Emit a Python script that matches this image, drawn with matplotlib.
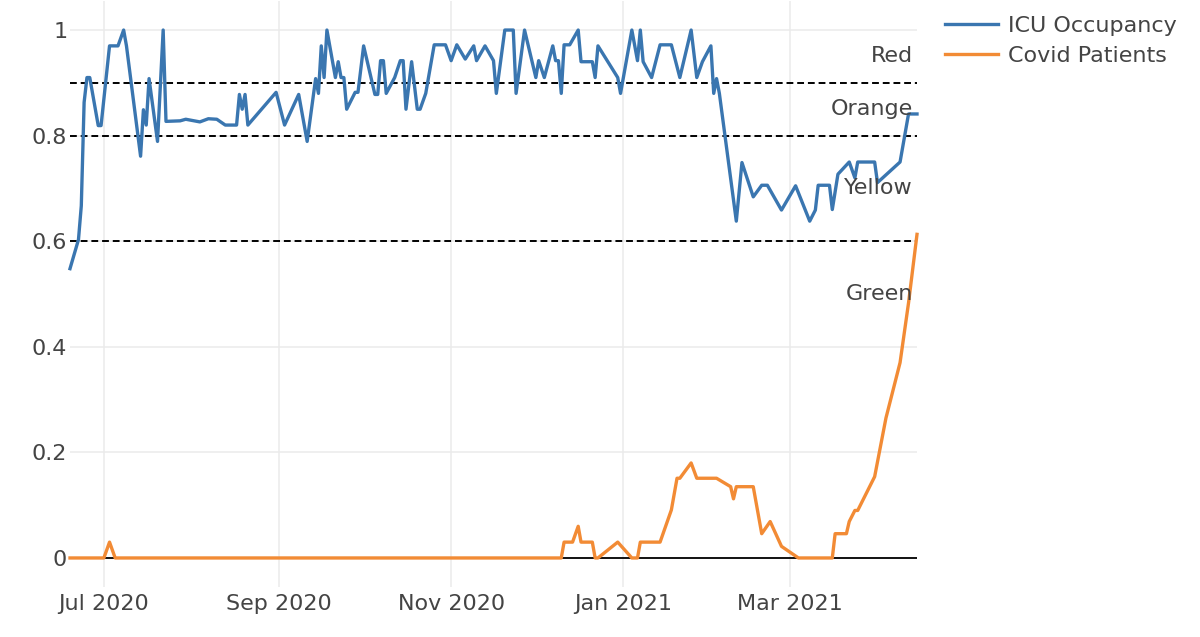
import matplotlib
matplotlib.use("Agg")
import matplotlib.pyplot as plt
import matplotlib.dates as mdates
import pandas as pd

plt.rcParams['font.family'] = ['DejaVu Sans']

# ICU occupancy (share of beds)
icu_dates = [
    "2020-06-19", "2020-06-22", "2020-06-23", "2020-06-24", "2020-06-25", "2020-06-26",
    "2020-06-29", "2020-06-30", "2020-07-03", "2020-07-06", "2020-07-08", "2020-07-09",
    "2020-07-14", "2020-07-15", "2020-07-16", "2020-07-17", "2020-07-20", "2020-07-22",
    "2020-07-23", "2020-07-28", "2020-07-30", "2020-08-04", "2020-08-07", "2020-08-10",
    "2020-08-13", "2020-08-17", "2020-08-18", "2020-08-19", "2020-08-20", "2020-08-21",
    "2020-08-31", "2020-09-03", "2020-09-08", "2020-09-11", "2020-09-14", "2020-09-15",
    "2020-09-16", "2020-09-17", "2020-09-18", "2020-09-21", "2020-09-22", "2020-09-23",
    "2020-09-24", "2020-09-25", "2020-09-28", "2020-09-29", "2020-10-01", "2020-10-05",
    "2020-10-06", "2020-10-07", "2020-10-08", "2020-10-09", "2020-10-12", "2020-10-14",
    "2020-10-15", "2020-10-16", "2020-10-18", "2020-10-20", "2020-10-21", "2020-10-23",
    "2020-10-26", "2020-10-30", "2020-11-01", "2020-11-03", "2020-11-06", "2020-11-09",
    "2020-11-10", "2020-11-13", "2020-11-16", "2020-11-17", "2020-11-20", "2020-11-23",
    "2020-11-24", "2020-11-27", "2020-12-01", "2020-12-02", "2020-12-04", "2020-12-07",
    "2020-12-08", "2020-12-09", "2020-12-10", "2020-12-11", "2020-12-13", "2020-12-16",
    "2020-12-17", "2020-12-21", "2020-12-22", "2020-12-23", "2020-12-30", "2020-12-31",
    "2021-01-04", "2021-01-06", "2021-01-07", "2021-01-08", "2021-01-11", "2021-01-14",
    "2021-01-18", "2021-01-21", "2021-01-25", "2021-01-27", "2021-01-29", "2021-02-01",
    "2021-02-02", "2021-02-03", "2021-02-04", "2021-02-10", "2021-02-12", "2021-02-16",
    "2021-02-19", "2021-02-21", "2021-02-26", "2021-03-03", "2021-03-08", "2021-03-10",
    "2021-03-11", "2021-03-15", "2021-03-16", "2021-03-18", "2021-03-22", "2021-03-24",
    "2021-03-25", "2021-03-31", "2021-04-01", "2021-04-09", "2021-04-12", "2021-04-15",
]
icu_vals = [
    0.548, 0.603, 0.667, 0.863, 0.91, 0.91,
    0.819, 0.819, 0.97, 0.97, 1.0, 0.97,
    0.761, 0.849, 0.82, 0.908, 0.789, 1.0,
    0.827, 0.828, 0.831, 0.826, 0.832, 0.831,
    0.82, 0.82, 0.878, 0.85, 0.878, 0.82,
    0.882, 0.82, 0.878, 0.789, 0.908, 0.88,
    0.97, 0.91, 1.0, 0.91, 0.94, 0.91,
    0.91, 0.85, 0.882, 0.882, 0.97, 0.878,
    0.878, 0.942, 0.942, 0.88, 0.91, 0.942,
    0.942, 0.85, 0.94, 0.85, 0.85, 0.88,
    0.972, 0.972, 0.942, 0.972, 0.945, 0.97,
    0.942, 0.97, 0.942, 0.88, 1.0, 1.0,
    0.88, 1.0, 0.91, 0.942, 0.91, 0.97,
    0.942, 0.942, 0.88, 0.972, 0.972, 1.0,
    0.94, 0.94, 0.91, 0.97, 0.91, 0.88,
    1.0, 0.942, 1.0, 0.94, 0.91, 0.972,
    0.972, 0.91, 1.0, 0.91, 0.94, 0.97,
    0.88, 0.908, 0.88, 0.638, 0.749, 0.684,
    0.706, 0.706, 0.659, 0.705, 0.638, 0.659,
    0.706, 0.706, 0.66, 0.727, 0.75, 0.72,
    0.75, 0.75, 0.711, 0.75, 0.841, 0.841,
]

# Covid patients (share of beds)
covid_dates = [
    "2020-06-19", "2020-07-01", "2020-07-03", "2020-07-05", "2020-12-10", "2020-12-11",
    "2020-12-14", "2020-12-16", "2020-12-17", "2020-12-21", "2020-12-22", "2020-12-23",
    "2020-12-30", "2021-01-04", "2021-01-06", "2021-01-07", "2021-01-14", "2021-01-18",
    "2021-01-20", "2021-01-21", "2021-01-25", "2021-01-27", "2021-02-03", "2021-02-08",
    "2021-02-09", "2021-02-10", "2021-02-16", "2021-02-19", "2021-02-22", "2021-02-26",
    "2021-03-04", "2021-03-16", "2021-03-17", "2021-03-21", "2021-03-22", "2021-03-24",
    "2021-03-25", "2021-03-31", "2021-04-04", "2021-04-09", "2021-04-12", "2021-04-15",
]
covid_vals = [
    0, 0, 0.03, 0, 0, 0.03,
    0.03, 0.06, 0.03, 0.03, 0, 0,
    0.03, 0, 0, 0.03, 0.03, 0.091,
    0.151, 0.151, 0.18, 0.151, 0.151, 0.135,
    0.112, 0.135, 0.135, 0.046, 0.069, 0.022,
    0, 0, 0.046, 0.046, 0.069, 0.09,
    0.09, 0.154, 0.265, 0.37, 0.483, 0.613,
]

thresholds = [0.9, 0.8, 0.6]
zone_names = ["Red", "Orange", "Yellow", "Green"]
zone_y = [0.95, 0.85, 0.70, 0.50]

icu_x = pd.to_datetime(icu_dates)
covid_x = pd.to_datetime(covid_dates)
x_start = icu_x[0]
x_end = icu_x[-1]

text_color = '#444444'
fig = plt.figure(figsize=(12, 6.37), dpi=100)
ax = fig.add_axes([70/1200, 1 - 587/637, 847/1200, 586/637])

for y in thresholds:
    ax.plot([x_start, x_end], [y, y], color='black', lw=1.4, dashes=(3.5, 2), zorder=2)
ax.axhline(0, color='black', lw=1.3, zorder=2)

ax.plot(icu_x, icu_vals, color='#3a76b0', lw=2.4, label='ICU Occupancy', zorder=3, clip_on=False)
ax.plot(covid_x, covid_vals, color='#f28b35', lw=2.4, label='Covid Patients', zorder=3, clip_on=False)

for name, y in zip(zone_names, zone_y):
    ax.text(x_end - pd.Timedelta(days=1.5), y, name, ha='right', va='center',
            fontsize=16, color=text_color, zorder=4)

ax.set_xlim(x_start, x_end)
ax.set_ylim(-0.055, 1.055)
ax.set_yticks([0, 0.2, 0.4, 0.6, 0.8, 1.0])
ax.set_yticklabels(['0', '0.2', '0.4', '0.6', '0.8', '1'])
ax.xaxis.set_major_locator(mdates.MonthLocator(bymonth=[1, 3, 5, 7, 9, 11]))
ax.xaxis.set_major_formatter(mdates.DateFormatter('%b %Y'))

ax.grid(True, color='#ebebeb', lw=1.1, zorder=0)
ax.set_axisbelow(True)
for s in ax.spines.values():
    s.set_visible(False)
ax.tick_params(length=0, labelsize=16, colors=text_color)
ax.tick_params(axis='x', pad=5)
ax.tick_params(axis='y', pad=2)

leg = fig.legend(loc='upper left', bbox_to_anchor=(945/1200, 1 - 16/637), frameon=False,
                 fontsize=16, handlelength=2.4, handletextpad=0.45, labelspacing=0.45,
                 borderpad=0, borderaxespad=0)
for t in leg.get_texts():
    t.set_color(text_color)

fig.savefig('out.png', dpi=100)
